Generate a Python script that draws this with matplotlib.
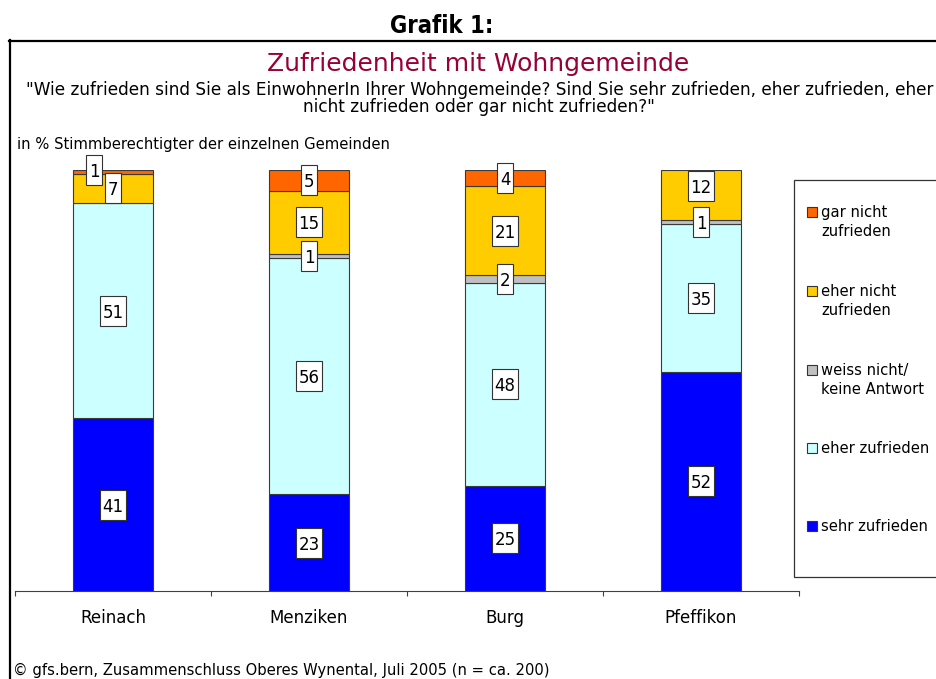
import matplotlib
matplotlib.use("Agg")
import matplotlib.pyplot as plt
from matplotlib.patches import Rectangle
from matplotlib.lines import Line2D
import matplotlib.transforms as mtransforms

# ---------------- data ----------------
gemeinden = ["Reinach", "Menziken", "Burg", "Pfeffikon"]
sehr_zufrieden = [41, 23, 25, 52]
eher_zufrieden = [51, 56, 48, 35]
weiss_nicht = [0, 1, 2, 1]
eher_nicht_zufrieden = [7, 15, 21, 12]
gar_nicht_zufrieden = [1, 5, 4, 0]

series_names = ["sehr zufrieden", "eher zufrieden", "weiss nicht/\nkeine Antwort",
                "eher nicht\nzufrieden", "gar nicht\nzufrieden"]
series_values = [sehr_zufrieden, eher_zufrieden, weiss_nicht,
                 eher_nicht_zufrieden, gar_nicht_zufrieden]
series_colors = ["#0000ff", "#ccffff", "#c0c0c0", "#ffcc00", "#ff6600"]

title = "Zufriedenheit mit Wohngemeinde"
subtitle1 = "\"Wie zufrieden sind Sie als EinwohnerIn Ihrer Wohngemeinde? Sind Sie sehr zufrieden, eher zufrieden, eher"
subtitle2 = "nicht zufrieden oder gar nicht zufrieden?\""
unit_note = "in % Stimmberechtigter der einzelnen Gemeinden"
footer = "\u00a9 gfs.bern, Zusammenschluss Oberes Wynental, Juli 2005 (n = ca. 200)"
heading = "Grafik 1:"

# label placement overrides (layout only): (bar index, series index) -> (dx, y)
label_override = {(0, 4): (-0.097, 99.9), (0, 3): (0.0, 95.6), (3, 3): (0.0, 96.0)}

# ---------------- figure ----------------
W, H = 936, 679
plt.rcParams["font.family"] = ["DejaVu Sans"]
fig = plt.figure(figsize=(W / 100, H / 100), dpi=100)


def fx(px):
    return px / W


def fy(py):
    return 1 - py / H


renderer = fig.canvas.get_renderer()


def fit(t, target):
    w = t.get_window_extent(renderer).width
    t.set_fontsize(t.get_fontsize() * target / w)
    return t.get_fontsize()


# frame (top + left visible)
fig.add_artist(Line2D([fx(9), fx(940)], [fy(40.5), fy(40.5)], color="black", lw=1.6,
                      transform=fig.transFigure))
fig.add_artist(Line2D([fx(9.5), fx(9.5)], [fy(40), fy(690)], color="black", lw=1.6,
                      transform=fig.transFigure))

t = fig.text(fx(442), fy(33), heading, ha="center", va="baseline", fontsize=16,
             fontweight="bold", fontstretch="condensed",
             family=["Liberation Sans Narrow", "DejaVu Sans"])
fit(t, 104)

t = fig.text(fx(478.5), fy(71), title, ha="center", va="baseline", fontsize=20,
             color="#990033")
fit(t, 421)

t1 = fig.text(fx(480), fy(95), subtitle1, ha="center", va="baseline", fontsize=13)
fs_sub = fit(t1, 910)
fig.text(fx(478.5), fy(112), subtitle2, ha="center", va="baseline", fontsize=fs_sub)

t = fig.text(fx(17), fy(149), unit_note, ha="left", va="baseline", fontsize=12)
fit(t, 369)

t = fig.text(fx(13), fy(675), footer, ha="left", va="baseline", fontsize=12)
fit(t, 531)

# category font size from "Reinach" width
tmp = fig.text(0, 0, "Reinach", fontsize=12)
fs_cat = fit(tmp, 66)
tmp.remove()

# ---------------- axes ----------------
ax = fig.add_axes([fx(15), fy(591), (799 - 15) / W, (591 - 169.5) / H])
ax.set_xlim(-0.5, 3.5)
ax.set_ylim(0, 100)
for s in ["left", "top", "right"]:
    ax.spines[s].set_visible(False)
ax.spines["bottom"].set_color("#404040")
ax.spines["bottom"].set_linewidth(0.8)
ax.set_yticks([])
x = list(range(len(gemeinden)))
ax.set_xticks(x)
ax.set_xticklabels(gemeinden, fontsize=fs_cat)
ax.tick_params(axis="x", which="major", length=0, pad=13)
ax.set_xticks([-0.5, 0.5, 1.5, 2.5, 3.5], minor=True)
ax.tick_params(axis="x", which="minor", length=3.6, width=0.8, color="#404040")

bottoms = [0] * len(gemeinden)
bar_w = 0.41
for si, (vals, col) in enumerate(zip(series_values, series_colors)):
    keep = [i for i, v in enumerate(vals) if v > 0]
    ax.bar([x[i] for i in keep], [vals[i] for i in keep], bar_w,
           bottom=[bottoms[i] for i in keep], color=col, edgecolor="#3a3a3a",
           linewidth=0.8, zorder=2)
    for i in keep:
        v = vals[i]
        cx, cy = x[i], bottoms[i] + v / 2
        if (i, si) in label_override:
            dx, cy = label_override[(i, si)]
            cx = x[i] + dx
        txt = str(v)
        wpx = 7 + 9.5 * len(txt)
        hpx = 30
        tr = fig.dpi_scale_trans + mtransforms.ScaledTranslation(cx, cy, ax.transData)
        ax.add_patch(Rectangle((-wpx / 200, -hpx / 200), wpx / 100, hpx / 100,
                               transform=tr, facecolor="white", edgecolor="#333333",
                               linewidth=0.8, zorder=5, clip_on=False))
        ax.text(cx, cy, txt, ha="center", va="center_baseline", fontsize=fs_cat,
                zorder=6, clip_on=False)
    bottoms = [b + v for b, v in zip(bottoms, vals)]

# ---------------- legend (manual) ----------------
fig.add_artist(Rectangle((fx(793.5), fy(577)), fx(960) - fx(793.5), fy(180) - fy(577),
                         transform=fig.transFigure, facecolor="white",
                         edgecolor="#333333", linewidth=0.9))
leg_first_baseline = [217, 296, 375, 453, 531]
leg_line_gap = 19
tmp = fig.text(0, 0, "eher zufrieden", fontsize=12)
fs_leg = fit(tmp, 107)
tmp.remove()
order = [4, 3, 2, 1, 0]
for k, si in enumerate(order):
    base = leg_first_baseline[k]
    fig.add_artist(Rectangle((fx(807), fy(base)), 10 / W, 10 / H,
                             transform=fig.transFigure, facecolor=series_colors[si],
                             edgecolor="#333333", linewidth=0.8))
    for li, line in enumerate(series_names[si].split("\n")):
        fig.text(fx(821), fy(base + li * leg_line_gap), line, ha="left",
                 va="baseline", fontsize=fs_leg)

fig.savefig("out.png", dpi=100)
